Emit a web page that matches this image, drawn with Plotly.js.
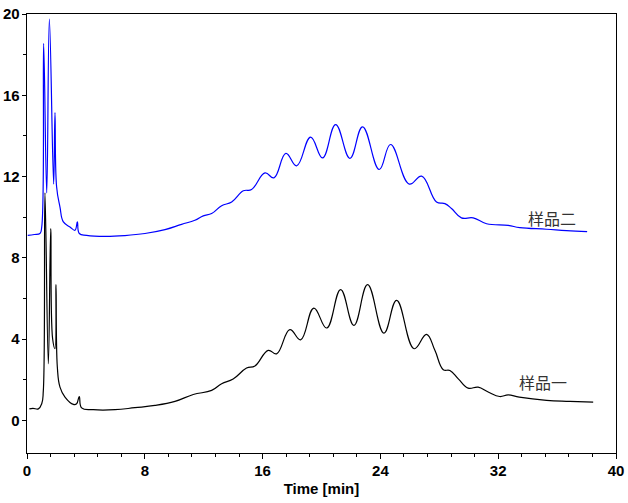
<!DOCTYPE html>
<html>
<head>
<meta charset="utf-8">
<script src="https://cdn.plot.ly/plotly-3.0.1.min.js"></script>
<style>
  html, body { margin: 0; padding: 0; background: #fff; }
  #chart { width: 628px; height: 503px; }
</style>
</head>
<body>
<div id="chart"></div>
<script>
// Sample 1 (样品一), black trace
const time_s1 = [0.16, 0.4, 0.77, 1.0, 1.11, 1.22, 1.45, 1.61, 1.74, 1.9, 1.97, 2.06, 2.24, 2.58, 3.15, 3.37, 3.55, 3.71, 4.5, 5.97, 7.33, 8.69, 10.05, 11.29, 12.54, 13.22, 14.0, 14.91, 15.48, 16.38, 16.95, 17.85, 18.58, 19.48, 20.35, 21.3, 22.2, 23.13, 24.24, 25.1, 26.29, 27.13, 27.7, 28.27, 28.72, 29.29, 29.96, 30.64, 31.32, 32.1, 32.68, 33.43, 35.28, 36.86, 38.45];
const signal_s1 = [0.57, 0.6, 0.57, 0.82, 1.48, 11.2, 2.79, 9.44, 4.02, 3.53, 6.68, 2.63, 1.64, 1.15, 0.79, 0.82, 1.18, 0.62, 0.53, 0.53, 0.63, 0.74, 0.94, 1.28, 1.48, 1.81, 2.04, 2.58, 2.68, 3.45, 3.28, 4.47, 3.97, 5.53, 4.55, 6.44, 4.68, 6.68, 4.3, 5.91, 3.53, 4.24, 3.45, 2.5, 2.46, 2.05, 1.59, 1.64, 1.4, 1.18, 1.26, 1.15, 0.99, 0.94, 0.9];

// Sample 2 (样品二), blue trace
const time_s2 = [0.05, 0.5, 0.88, 1.0, 1.13, 1.34, 1.52, 1.81, 1.9, 2.01, 2.24, 2.47, 2.92, 3.26, 3.42, 3.55, 4.05, 5.3, 6.65, 8.01, 9.37, 10.5, 11.4, 11.97, 12.54, 13.22, 13.9, 14.69, 15.25, 16.16, 16.77, 17.58, 18.31, 19.26, 20.07, 20.96, 21.93, 22.79, 23.92, 24.69, 25.96, 26.8, 27.81, 28.38, 28.83, 29.5, 30.3, 31.21, 32.68, 33.47, 35.28, 36.64, 38.04];
const signal_s2 = [9.11, 9.15, 9.2, 9.52, 18.55, 11.2, 19.75, 11.63, 15.15, 11.5, 10.5, 9.77, 9.52, 9.36, 9.77, 9.2, 9.11, 9.06, 9.1, 9.2, 9.39, 9.65, 9.85, 10.07, 10.18, 10.57, 10.75, 11.3, 11.36, 12.18, 11.94, 13.14, 12.53, 13.94, 12.92, 14.56, 12.9, 14.45, 12.35, 13.58, 11.63, 12.02, 10.75, 10.67, 10.43, 9.97, 9.97, 9.68, 9.6, 9.49, 9.41, 9.34, 9.29];

const series_labels = ['样品一', '样品二'];
const label_pos_x = [35.03, 35.62];
const label_pos_y = [1.87, 9.94];

const xTickVals = [0, 8, 16, 24, 32, 40];
const yTickVals = [0, 4, 8, 12, 16, 20];

const traces = [
  {
    x: time_s1, y: signal_s1, type: 'scatter', mode: 'lines',
    line: { color: '#000000', width: 1.2, shape: 'spline', smoothing: 1.2 },
    hoverinfo: 'skip', showlegend: false
  },
  {
    x: time_s2, y: signal_s2, type: 'scatter', mode: 'lines',
    line: { color: '#0000ff', width: 1.2, shape: 'spline', smoothing: 1.2 },
    hoverinfo: 'skip', showlegend: false
  }
];

const tickFont = { family: 'Liberation Sans, Arial, sans-serif', size: 15, color: '#000' };

const layout = {
  width: 628, height: 503,
  margin: { l: 27, r: 12, t: 14, b: 50, pad: 0 },
  paper_bgcolor: '#fff', plot_bgcolor: '#fff',
  font: { family: 'Liberation Sans, Arial, sans-serif', color: '#000' },
  xaxis: {
    range: [0, 40], tickvals: xTickVals, ticktext: xTickVals.map(v => '<b>' + v + '</b>'),
    ticks: 'outside', ticklen: 5, tickwidth: 1, tickcolor: '#000',
    minor: { dtick: 1.6, tick0: 0, ticks: 'outside', ticklen: 3, tickcolor: '#000', showgrid: false },
    showline: true, linecolor: '#000', linewidth: 1.3, mirror: true,
    showgrid: false, zeroline: false, tickfont: tickFont, ticklabelstandoff: -1,
    title: { text: '<b>Time [min]</b>', font: { family: 'Liberation Sans, Arial, sans-serif', size: 15, color: '#000' }, standoff: 5 }
  },
  yaxis: {
    range: [-1.6, 20], tickvals: yTickVals, ticktext: yTickVals.map(v => '<b>' + v + '</b>'),
    ticks: 'outside', ticklen: 4, tickwidth: 1, tickcolor: '#000',
    minor: { dtick: 2, tick0: 0, ticks: 'outside', ticklen: 3, tickcolor: '#000', showgrid: false },
    showline: true, linecolor: '#000', linewidth: 1.3, mirror: true,
    showgrid: false, zeroline: false, tickfont: tickFont, ticklabelstandoff: -1
  },
  annotations: series_labels.map((t, i) => ({
    x: label_pos_x[i], y: label_pos_y[i], xref: 'x', yref: 'y', text: t, showarrow: false,
    font: { family: 'Noto Sans CJK SC, sans-serif', size: 16, color: '#333' }
  }))
};

Plotly.newPlot('chart', traces, layout, { staticPlot: true, displayModeBar: false });
</script>
</body>
</html>
